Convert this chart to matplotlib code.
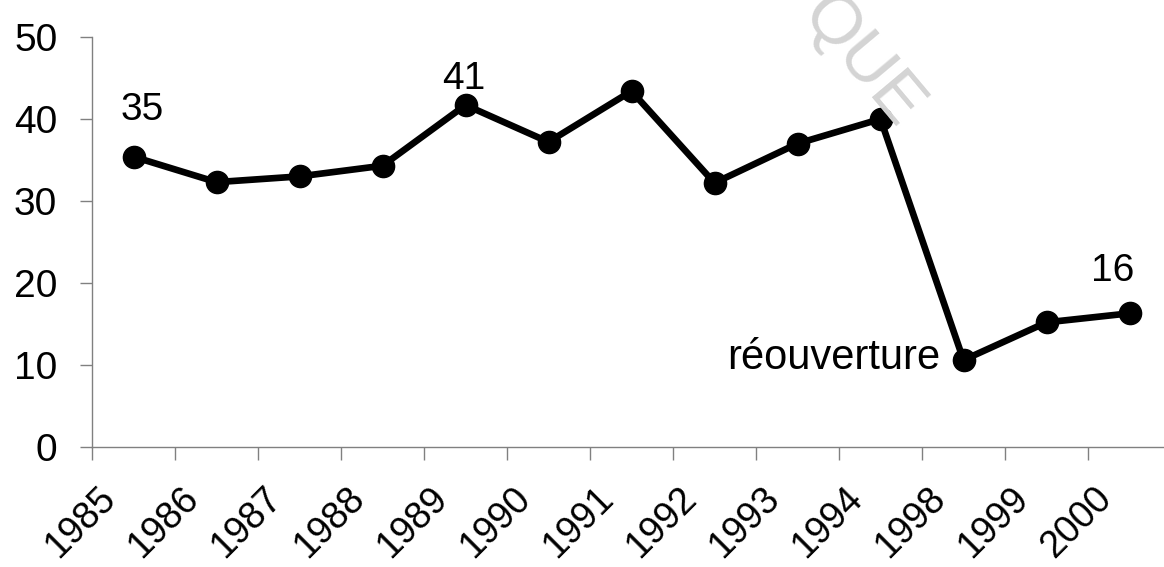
import numpy as np
import matplotlib
matplotlib.use("Agg")
import matplotlib.pyplot as plt
from matplotlib.transforms import ScaledTranslation

plt.rcParams['font.family'] = ['Liberation Sans', 'DejaVu Sans']

# data
years = ["1985", "1986", "1987", "1988", "1989", "1990", "1991",
         "1992", "1993", "1994", "1998", "1999", "2000"]
values = [35.4, 32.3, 33.0, 34.3, 41.7, 37.2, 43.4,
          32.2, 37.0, 40.0, 10.6, 15.2, 16.3]
# (index, text) of point labels
point_labels = [(0, "35"), (4, "41"), (12, "16"), (10, "réouverture")]

fig = plt.figure(figsize=(11.64, 5.67), dpi=100)
W, H = 1164, 567
ax = fig.add_axes([92 / W, 1 - 447 / H, (1171 - 92) / W, (447 - 37) / H])

x = np.arange(len(years))
ax.plot(x, values, color='black', lw=4.8, marker='o', ms=16,
        solid_joinstyle='round', zorder=3, clip_on=False)

ax.set_xlim(-0.5, len(years) - 0.5)
ax.set_ylim(0, 50)

# spines
for s in ['top', 'right']:
    ax.spines[s].set_visible(False)
for s in ['left', 'bottom']:
    ax.spines[s].set_color('#808080')
    ax.spines[s].set_linewidth(1)

# y axis
ax.set_yticks(range(0, 51, 10))
ax.tick_params(axis='y', length=9, width=1, color='#808080', pad=16,
               labelsize=28)

# x axis: tick marks at category boundaries, labels at centers
ax.set_xticks(np.arange(-0.5, len(years), 1), minor=True)
ax.tick_params(axis='x', which='minor', length=9, width=1, color='#808080')
ax.set_xticks(x, labels=years, rotation=45, ha='right', va='top',
              rotation_mode='anchor')
ax.tick_params(axis='x', which='major', length=0, pad=24, labelsize=27)
for lab in ax.get_xticklabels():
    lab.set_transform(lab.get_transform() +
                      ScaledTranslation(-36 / 100, 0, fig.dpi_scale_trans))

# point labels
offsets = {0: (9, 47, 'center'), 4: (-2, 26, 'center'),
           12: (-17, 42, 'center'), 10: (-23, 2, 'right')}
for i, txt in point_labels:
    dx, dy, ha = offsets[i]
    ax.annotate(txt, (x[i], values[i]), xytext=(dx, dy),
                textcoords='offset pixels', ha=ha, va='center',
                fontsize=28 if len(txt) < 4 else 30)

# faint scan watermark
fig.text(862 / W, 1 - 62 / H, "QUE", rotation=-50, color='#d4d4d4',
         fontsize=50, ha='center', va='center', zorder=0)

fig.savefig("out.png", dpi=100)
